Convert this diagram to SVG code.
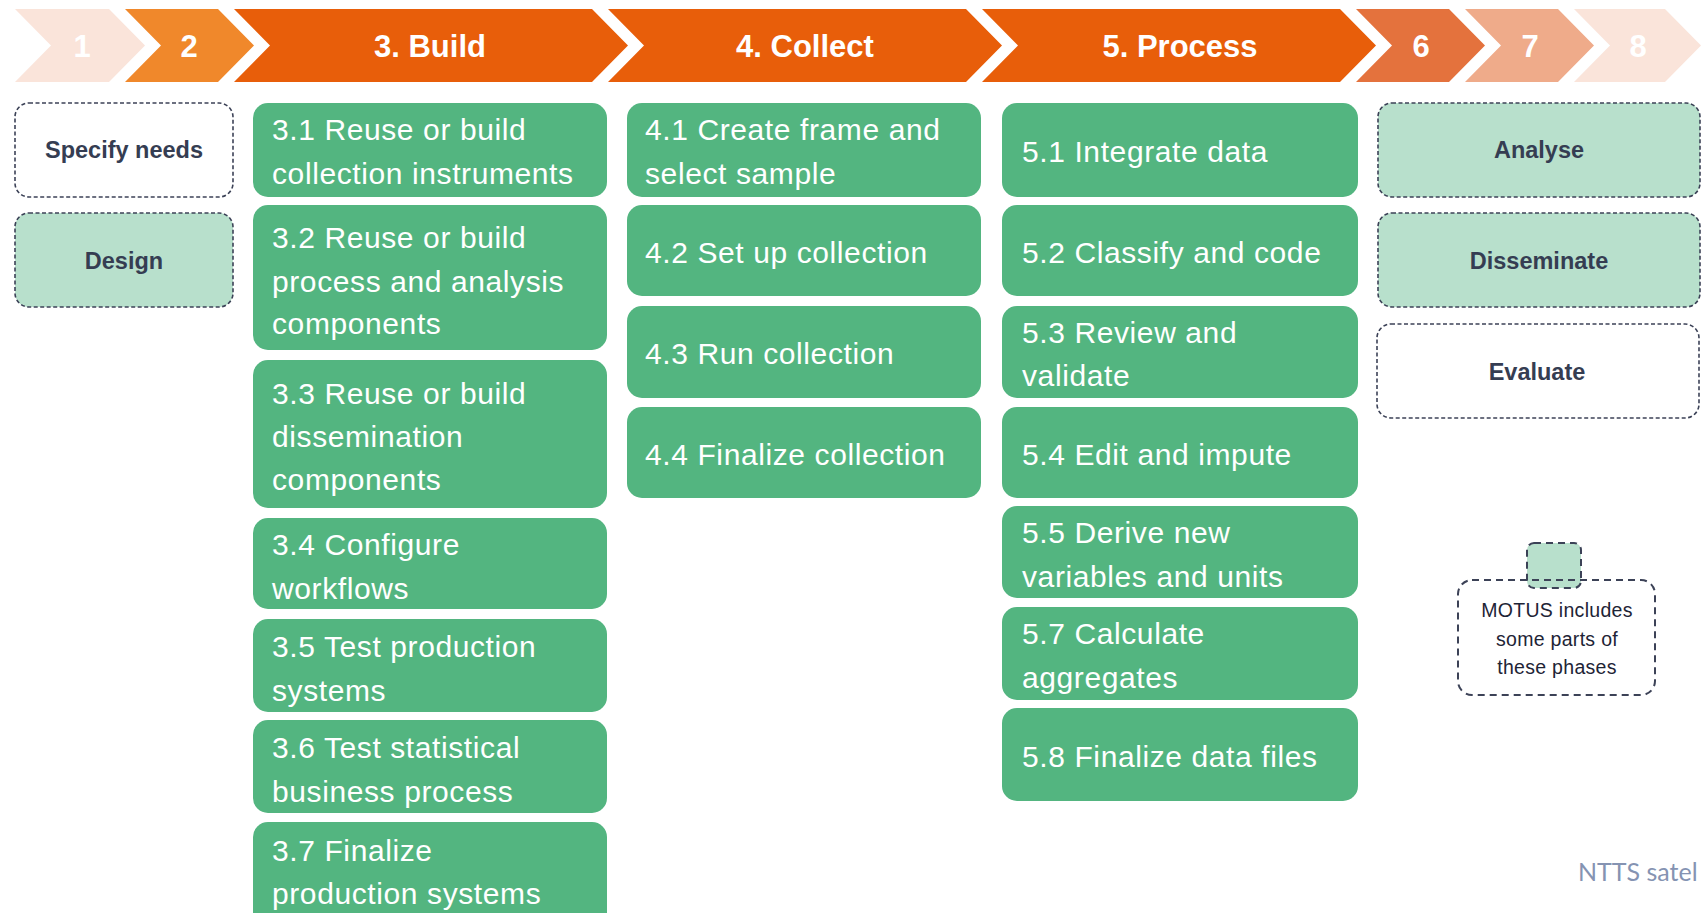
<svg xmlns="http://www.w3.org/2000/svg" width="1706" height="913" viewBox="0 0 1706 913">
<style>
.chev{stroke:none}
.pl{font-family:"Liberation Sans",Arial,sans-serif;font-weight:bold;font-size:31px;fill:#fff;text-anchor:middle}
.g{fill:#53B580}
.gt{font-family:"Liberation Sans",Arial,sans-serif;font-size:30px;letter-spacing:0.6px;fill:#fff}
.d{stroke:#3C4257;stroke-width:1.6;stroke-dasharray:4 2.5}
.dt{font-family:"Liberation Sans",Arial,sans-serif;font-weight:bold;font-size:23.5px;fill:#353D52;text-anchor:middle}
.lg{stroke:#3C4257;stroke-width:2;stroke-dasharray:7 5}
.lt{font-family:"Liberation Sans",Arial,sans-serif;font-size:19.5px;letter-spacing:0.3px;fill:#1E2436;text-anchor:middle}
</style>
<rect width="1706" height="913" fill="#fff"/>
<g id="phases">
<g id="p1"><polygon class="chev" fill="#FAE4DA" points="15,9 109,9 145,45.5 109,82 15,82 51,45.5"/><text class="pl" x="82" y="57">1</text></g>
<g id="p2"><polygon class="chev" fill="#F0882B" points="125,9 218,9 254,45.5 218,82 125,82 161,45.5"/><text class="pl" x="189" y="57">2</text></g>
<g id="p3"><polygon class="chev" fill="#E85E0A" points="234,9 592,9 628,45.5 592,82 234,82 270,45.5"/><text class="pl" x="430" y="57">3. Build</text></g>
<g id="p4"><polygon class="chev" fill="#E85E0A" points="608,9 966,9 1002,45.5 966,82 608,82 644,45.5"/><text class="pl" x="805" y="57">4. Collect</text></g>
<g id="p5"><polygon class="chev" fill="#E85E0A" points="982,9 1340,9 1376,45.5 1340,82 982,82 1018,45.5"/><text class="pl" x="1180" y="57">5. Process</text></g>
<g id="p6"><polygon class="chev" fill="#E4723D" points="1356,9 1449,9 1485,45.5 1449,82 1356,82 1392,45.5"/><text class="pl" x="1421" y="57">6</text></g>
<g id="p7"><polygon class="chev" fill="#EFAB8A" points="1465,9 1558,9 1594,45.5 1558,82 1465,82 1501,45.5"/><text class="pl" x="1530" y="57">7</text></g>
<g id="p8"><polygon class="chev" fill="#FAE4DA" points="1574,9 1665,9 1701,45.5 1665,82 1574,82 1610,45.5"/><text class="pl" x="1638" y="57">8</text></g>
</g>
<g id="left">
<g id="specify"><rect class="d" x="15" y="103" width="218" height="94" rx="14" fill="#fff"/><text class="dt" x="124" y="158">Specify needs</text></g>
<g id="design"><rect class="d" x="15" y="213" width="218" height="94" rx="14" fill="#B8E0CC"/><text class="dt" x="124" y="269">Design</text></g>
</g>
<g id="build">
<g id="b31"><rect class="g" x="253" y="103" width="354" height="94" rx="15"/><text class="gt" x="272" y="140">3.1 Reuse or build</text><text class="gt" x="272" y="184">collection instruments</text></g>
<g id="b32"><rect class="g" x="253" y="205" width="354" height="145" rx="15"/><text class="gt" x="272" y="248">3.2 Reuse or build</text><text class="gt" x="272" y="292">process and analysis</text><text class="gt" x="272" y="334">components</text></g>
<g id="b33"><rect class="g" x="253" y="360" width="354" height="148" rx="15"/><text class="gt" x="272" y="404">3.3 Reuse or build</text><text class="gt" x="272" y="447">dissemination</text><text class="gt" x="272" y="490">components</text></g>
<g id="b34"><rect class="g" x="253" y="518" width="354" height="91" rx="15"/><text class="gt" x="272" y="555">3.4 Configure</text><text class="gt" x="272" y="599">workflows</text></g>
<g id="b35"><rect class="g" x="253" y="619" width="354" height="93" rx="15"/><text class="gt" x="272" y="657">3.5 Test production</text><text class="gt" x="272" y="701">systems</text></g>
<g id="b36"><rect class="g" x="253" y="720" width="354" height="93" rx="15"/><text class="gt" x="272" y="758">3.6 Test statistical</text><text class="gt" x="272" y="802">business process</text></g>
<g id="b37"><rect class="g" x="253" y="822" width="354" height="110" rx="15"/><text class="gt" x="272" y="861">3.7 Finalize</text><text class="gt" x="272" y="904">production systems</text></g>
</g>
<g id="collect">
<g id="c41"><rect class="g" x="627" y="103" width="354" height="94" rx="15"/><text class="gt" x="645" y="140">4.1 Create frame and</text><text class="gt" x="645" y="184">select sample</text></g>
<g id="c42"><rect class="g" x="627" y="205" width="354" height="91" rx="15"/><text class="gt" x="645" y="263">4.2 Set up collection</text></g>
<g id="c43"><rect class="g" x="627" y="306" width="354" height="92" rx="15"/><text class="gt" x="645" y="364">4.3 Run collection</text></g>
<g id="c44"><rect class="g" x="627" y="407" width="354" height="91" rx="15"/><text class="gt" x="645" y="465">4.4 Finalize collection</text></g>
</g>
<g id="process">
<g id="r51"><rect class="g" x="1002" y="103" width="356" height="94" rx="15"/><text class="gt" x="1022" y="162">5.1 Integrate data</text></g>
<g id="r52"><rect class="g" x="1002" y="205" width="356" height="91" rx="15"/><text class="gt" x="1022" y="263">5.2 Classify and code</text></g>
<g id="r53"><rect class="g" x="1002" y="306" width="356" height="92" rx="15"/><text class="gt" x="1022" y="343">5.3 Review and</text><text class="gt" x="1022" y="386">validate</text></g>
<g id="r54"><rect class="g" x="1002" y="407" width="356" height="91" rx="15"/><text class="gt" x="1022" y="465">5.4 Edit and impute</text></g>
<g id="r55"><rect class="g" x="1002" y="506" width="356" height="92" rx="15"/><text class="gt" x="1022" y="543">5.5 Derive new</text><text class="gt" x="1022" y="587">variables and units</text></g>
<g id="r57"><rect class="g" x="1002" y="607" width="356" height="93" rx="15"/><text class="gt" x="1022" y="644">5.7 Calculate</text><text class="gt" x="1022" y="688">aggregates</text></g>
<g id="r58"><rect class="g" x="1002" y="708" width="356" height="93" rx="15"/><text class="gt" x="1022" y="767">5.8 Finalize data files</text></g>
</g>
<g id="right">
<g id="analyse"><rect class="d" x="1378" y="103" width="322" height="94" rx="14" fill="#B8E0CC"/><text class="dt" x="1539" y="158">Analyse</text></g>
<g id="disseminate"><rect class="d" x="1378" y="213" width="322" height="94" rx="14" fill="#B8E0CC"/><text class="dt" x="1539" y="269">Disseminate</text></g>
<g id="evaluate"><rect class="d" x="1377" y="324" width="322" height="94" rx="14" fill="#fff"/><text class="dt" x="1537" y="380">Evaluate</text></g>
</g>
<g id="legend">
<rect class="lg" x="1527" y="543" width="54" height="45" rx="7" fill="#B8E0CC"/>
<rect class="lg" x="1458" y="580" width="197" height="115" rx="14" fill="none"/>
<text class="lt" x="1557" y="617">MOTUS includes</text>
<text class="lt" x="1557" y="646">some parts of</text>
<text class="lt" x="1557" y="674">these phases</text>
</g>
<g id="connectors"></g>
<text x="1578" y="881" font-family="Lato,'Liberation Sans',sans-serif" font-size="25" fill="#8593B2">NTTS satel</text>
</svg>
